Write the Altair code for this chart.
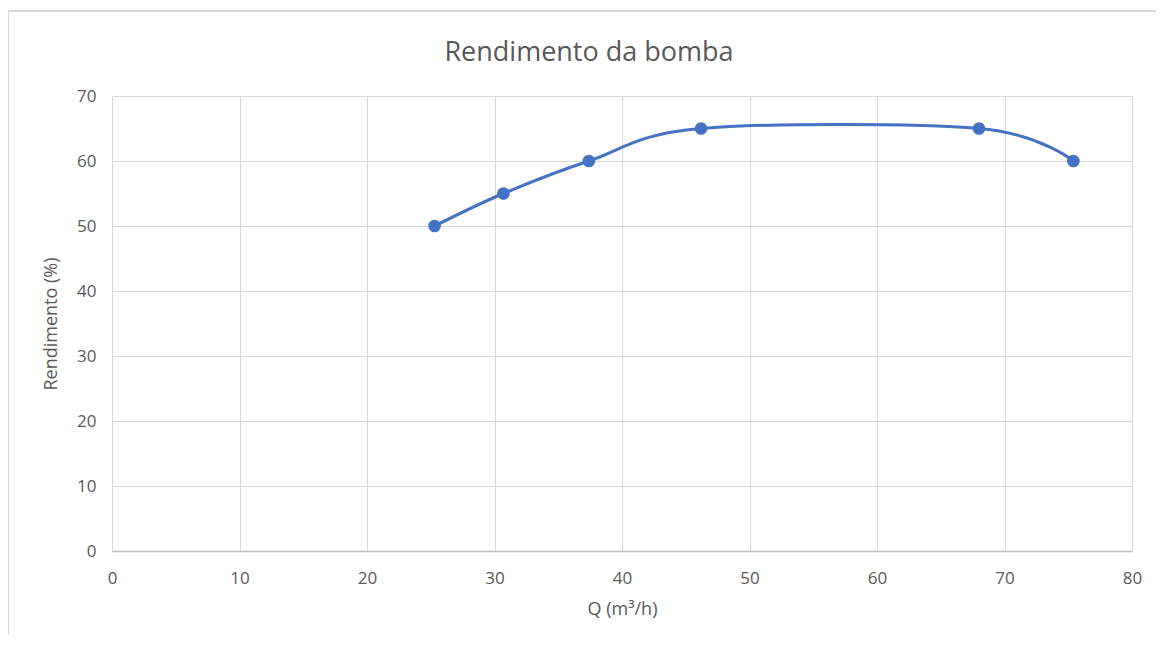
import altair as alt
import pandas as pd

q_values = [25.3, 30.7, 37.4, 46.2, 68.0, 75.4]
rendimento = [50, 55, 60, 65, 65, 60]
title_text = ["Rendimento da bomba"]

df = pd.DataFrame({"Q": q_values, "R": rendimento})
tdf = pd.DataFrame({"t": title_text})

FONT = "Open Sans"
GREY = "#595959"

x_enc = alt.X("Q:Q", title="Q (m³/h)",
              scale=alt.Scale(domain=[0, 80], nice=False, zero=True),
              axis=alt.Axis(values=list(range(0, 81, 10)), grid=True, gridColor="#d9d9d9",
                            domain=True, domainColor="#bfbfbf", domainWidth=1.5, ticks=False,
                            labelFlush=False,
                            labelFontSize=17, labelColor=GREY, labelFont=FONT, labelPadding=19,
                            titleFontSize=18, titleColor=GREY, titleFont=FONT, titleFontWeight="normal",
                            titlePadding=14))
y_enc = alt.Y("R:Q", title="Rendimento (%)",
              scale=alt.Scale(domain=[0, 70], nice=False),
              axis=alt.Axis(values=list(range(0, 71, 10)), grid=True, gridColor="#d9d9d9",
                            domain=False, ticks=False, labelFlush=False,
                            labelFontSize=17, labelColor=GREY, labelFont=FONT, labelPadding=16,
                            titleFontSize=18, titleColor=GREY, titleFont=FONT, titleFontWeight="normal",
                            titlePadding=16))

frame = alt.Chart(tdf).mark_rect(fill=None, stroke="#d9d9d9", strokeWidth=2, clip=False).encode(
    x=alt.value(-104), x2=alt.value(1100), y=alt.value(-85), y2=alt.value(700)
)

title = alt.Chart(tdf).mark_text(fontSize=27, color=GREY, font=FONT, align="center",
                                 baseline="alphabetic").encode(
    text="t:N", x=alt.value(477), y=alt.value(-35)
)

line = alt.Chart(df).mark_line(color="#4472C4", strokeWidth=3, interpolate="cardinal").encode(
    x=x_enc, y=y_enc
)
pts = alt.Chart(df).mark_point(filled=True, color="#4472C4", size=160, opacity=1).encode(
    x="Q:Q", y="R:Q"
)

chart = alt.layer(frame, line, pts, title).properties(
    width=1020, height=455,
    autosize=alt.AutoSizeParams(type="none"),
    padding={"left": 104, "top": 88, "right": 24, "bottom": 84},
).configure_view(stroke=None).configure(background="white")

chart.save("out.html", embed_options={"renderer": "svg", "actions": False})
